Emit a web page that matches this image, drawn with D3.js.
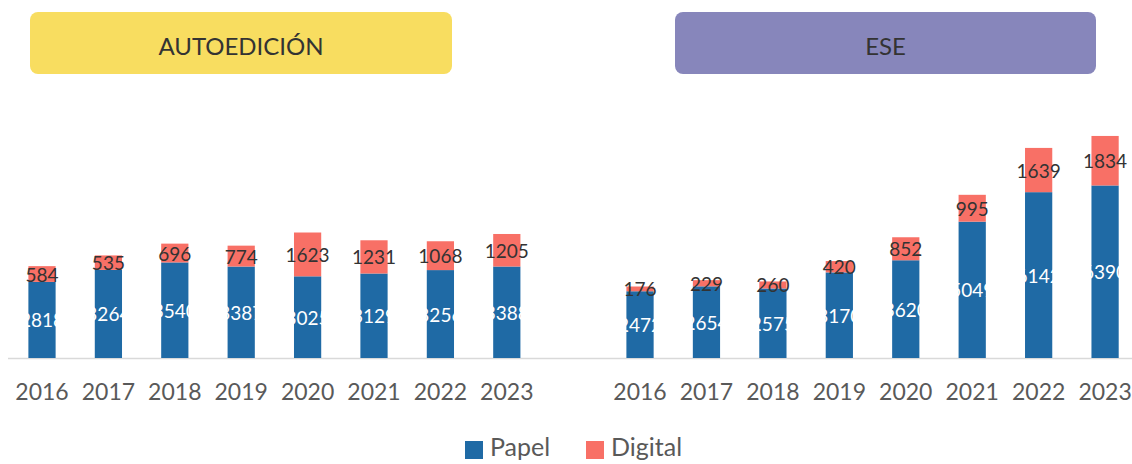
<!DOCTYPE html>
<html>
<head>
<meta charset="utf-8">
<script src="https://cdn.jsdelivr.net/npm/d3@7"></script>
<style>
  html, body { margin: 0; padding: 0; background: #fff; }
  svg { display: block; font-family: Lato, "Open Sans", sans-serif; }
</style>
</head>
<body>
<svg id="chart" width="1132" height="464"></svg>
<script>
// Years shown on both panels
const years = ["2016", "2017", "2018", "2019", "2020", "2021", "2022", "2023"];

// Autoedición: paper and digital titles per year
const autoPapel   = [2818, 3264, 3540, 3387, 3025, 3129, 3256, 3388];
const autoDigital = [584, 535, 696, 774, 1623, 1231, 1068, 1205];

// ESE: paper and digital titles per year
const esePapel   = [2472, 2654, 2575, 3170, 3620, 5049, 6142, 6390];
const eseDigital = [176, 229, 260, 420, 852, 995, 1639, 1834];

const seriesNames = ["Papel", "Digital"];
const panelTitles = ["AUTOEDICIÓN", "ESE"];

const colors = { Papel: "#1F6AA5", Digital: "#F87066" };
const boxColors = ["#F8DD60", "#8786BB"];

const svg = d3.select("#chart");

const baseY = 358;
const y = d3.scaleLinear().domain([0, 10000]).range([baseY, 88]);

const panels = [
  { title: panelTitles[0], papel: autoPapel, digital: autoDigital, range: [8.8, 540], box: [30, 452], fill: boxColors[0] },
  { title: panelTitles[1], papel: esePapel,  digital: eseDigital,  range: [606.8, 1138.3], box: [675, 1096], fill: boxColors[1] }
];

// Shared baseline across both panels
svg.append("line")
  .attr("x1", 8).attr("x2", 1132)
  .attr("y1", baseY + 0.5).attr("y2", baseY + 0.5)
  .attr("stroke", "#D9D9D9").attr("stroke-width", 1.5);

panels.forEach(p => {
  // Header box
  svg.append("rect")
    .attr("x", p.box[0]).attr("y", 12)
    .attr("width", p.box[1] - p.box[0]).attr("height", 62)
    .attr("rx", 8).attr("fill", p.fill);
  svg.append("text")
    .attr("x", (p.box[0] + p.box[1]) / 2).attr("y", 45)
    .attr("text-anchor", "middle").attr("dominant-baseline", "central")
    .attr("font-size", 24).attr("fill", "#333333")
    .text(p.title);

  const x = d3.scaleBand().domain(years).range(p.range)
    .paddingInner(0.59).paddingOuter(0.295);

  const rows = years.map((yr, i) => ({ year: yr, Papel: p.papel[i], Digital: p.digital[i] }));
  const stacked = d3.stack().keys(seriesNames)(rows);

  const g = svg.append("g");
  stacked.forEach(layer => {
    const key = layer.key;
    g.selectAll(null).data(layer).join("rect")
      .attr("x", d => x(d.data.year))
      .attr("width", x.bandwidth())
      .attr("y", d => y(d[1]))
      .attr("height", d => y(d[0]) - y(d[1]))
      .attr("fill", colors[key]);
  });

  // Value labels, centred in each segment
  stacked.forEach(layer => {
    const key = layer.key;
    g.selectAll(null).data(layer).join("text")
      .attr("x", d => x(d.data.year) + x.bandwidth() / 2)
      .attr("y", d => (y(d[0]) + y(d[1])) / 2)
      .attr("text-anchor", "middle").attr("dominant-baseline", "central")
      .attr("font-size", 19)
      .attr("fill", key === "Papel" ? "#FFFFFF" : "#333333")
      .text(d => d.data[key]);
  });

  // Year axis
  const axis = svg.append("g")
    .attr("transform", `translate(0,${baseY})`)
    .call(d3.axisBottom(x).tickSize(0).tickPadding(26));
  axis.select(".domain").remove();
  axis.selectAll("text")
    .attr("font-family", "Lato, 'Open Sans', sans-serif")
    .attr("font-size", 23).attr("fill", "#595959");
});

// Legend
const legend = svg.append("g");
const legendItems = [{ name: seriesNames[0], x: 465 }, { name: seriesNames[1], x: 586 }];
legendItems.forEach(it => {
  legend.append("rect")
    .attr("x", it.x).attr("y", 441).attr("width", 18).attr("height", 18)
    .attr("fill", colors[it.name]);
  legend.append("text")
    .attr("x", it.x + 25).attr("y", 456)
    .attr("font-size", 25).attr("fill", "#595959")
    .text(it.name);
});
</script>
</body>
</html>
